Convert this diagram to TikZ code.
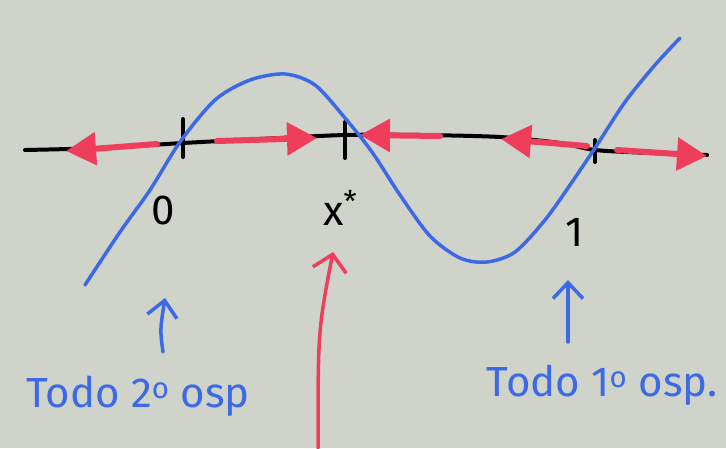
\documentclass[tikz,border=0pt]{standalone}
\usepackage{fontspec}
\setmainfont{Fira Sans}
\usetikzlibrary{arrows.meta}
\definecolor{bg}{RGB}{208,211,202}
\definecolor{pen}{RGB}{60,105,230}
\definecolor{redpen}{RGB}{238,62,92}
\begin{document}
\begin{tikzpicture}[x=1pt,y=-1pt, line cap=round, line join=round,
  axisline/.style={line width=4pt,black},
  flow/.style={line width=6pt, redpen, -{Triangle[length=30pt,width=32pt]}},
  curve/.style={line width=3.5pt, pen},
  tickmark/.style={line width=4pt,black},
  lbl/.style={font=\fontsize{42}{44}\selectfont, text=black, inner sep=0pt},
  note/.style={font=\fontsize{42}{44}\selectfont, text=pen, inner sep=0pt},
  pointer/.style={line width=3.5pt, pen, -{Straight Barb[length=16pt,width=30pt]}},
  redpointer/.style={line width=3.5pt, redpen, -{Straight Barb[length=16pt,width=34pt]}}]
\fill[bg] (0,0) rectangle (726,448);
\useasboundingbox (0,0) rectangle (726,448);
% axis
\draw[axisline] plot[smooth] coordinates {(25,150) (100,148) (183,143) (260,139) (345,135) (420,135) (500,137) (560,143) (595,150) (650,153) (707,155)};
% ticks
\coordinate (t0a) at (183,119); \coordinate (t0b) at (183,157);
\coordinate (txa) at (345,122); \coordinate (txb) at (345,158);
\coordinate (t1a) at (595,140); \coordinate (t1b) at (595,162);
\draw[tickmark] (t0a) -- (t0b);
\draw[tickmark] (txa) -- (txb);
\draw[tickmark] (t1a) -- (t1b);
% blue curve
\draw[curve] plot[smooth] coordinates {(85,285) (120,232) (150,190) (180,142) (215,100) (250,80) (285,74) (315,85) (345,118) (372,152) (400,195) (430,236) (460,258) (487,262) (515,252) (545,220) (570,185) (595,148) (625,102) (655,65) (680,38)};
% red flow arrows
\coordinate (f1s) at (157,144); \coordinate (f1e) at (66,151);
\coordinate (f2s) at (217,141); \coordinate (f2e) at (317,138);
\coordinate (f3s) at (440,136); \coordinate (f3e) at (360,135);
\coordinate (f4s) at (587,146); \coordinate (f4e) at (501,139);
\coordinate (f5s) at (617,150); \coordinate (f5e) at (707,156);
\draw[flow] (f1s) -- (f1e);
\draw[flow] (f2s) -- (f2e);
\draw[flow] (f3s) -- (f3e);
\draw[flow] (f4s) -- (f4e);
\draw[flow] (f5s) -- (f5e);
% labels
\node[lbl] (l0) at (163,210) {0};
\node[lbl] (lx) at (340,208) {x\raisebox{0.3em}{\fontsize{30}{30}\selectfont *}};
\node[lbl] (l1) at (575,232) {1};
% notes
\node[note] (n2) at (138,396) {Todo 2\textsuperscript{o} osp};
\node[note] (n1) at (602,385) {Todo 1\textsuperscript{o} osp.};
% pointers
\coordinate (p2s) at (163,352); \coordinate (p2e) at (165,298);
\coordinate (p1s) at (568,342); \coordinate (p1e) at (568,280);
\draw[pointer] (p2s) .. controls (160,330) .. (p2e);
\draw[pointer] (p1s) -- (p1e);
\coordinate (rs) at (318,448); \coordinate (re) at (333,252);
\draw[redpointer] (rs) .. controls (318,330) .. (re);
\end{tikzpicture}
\end{document}
